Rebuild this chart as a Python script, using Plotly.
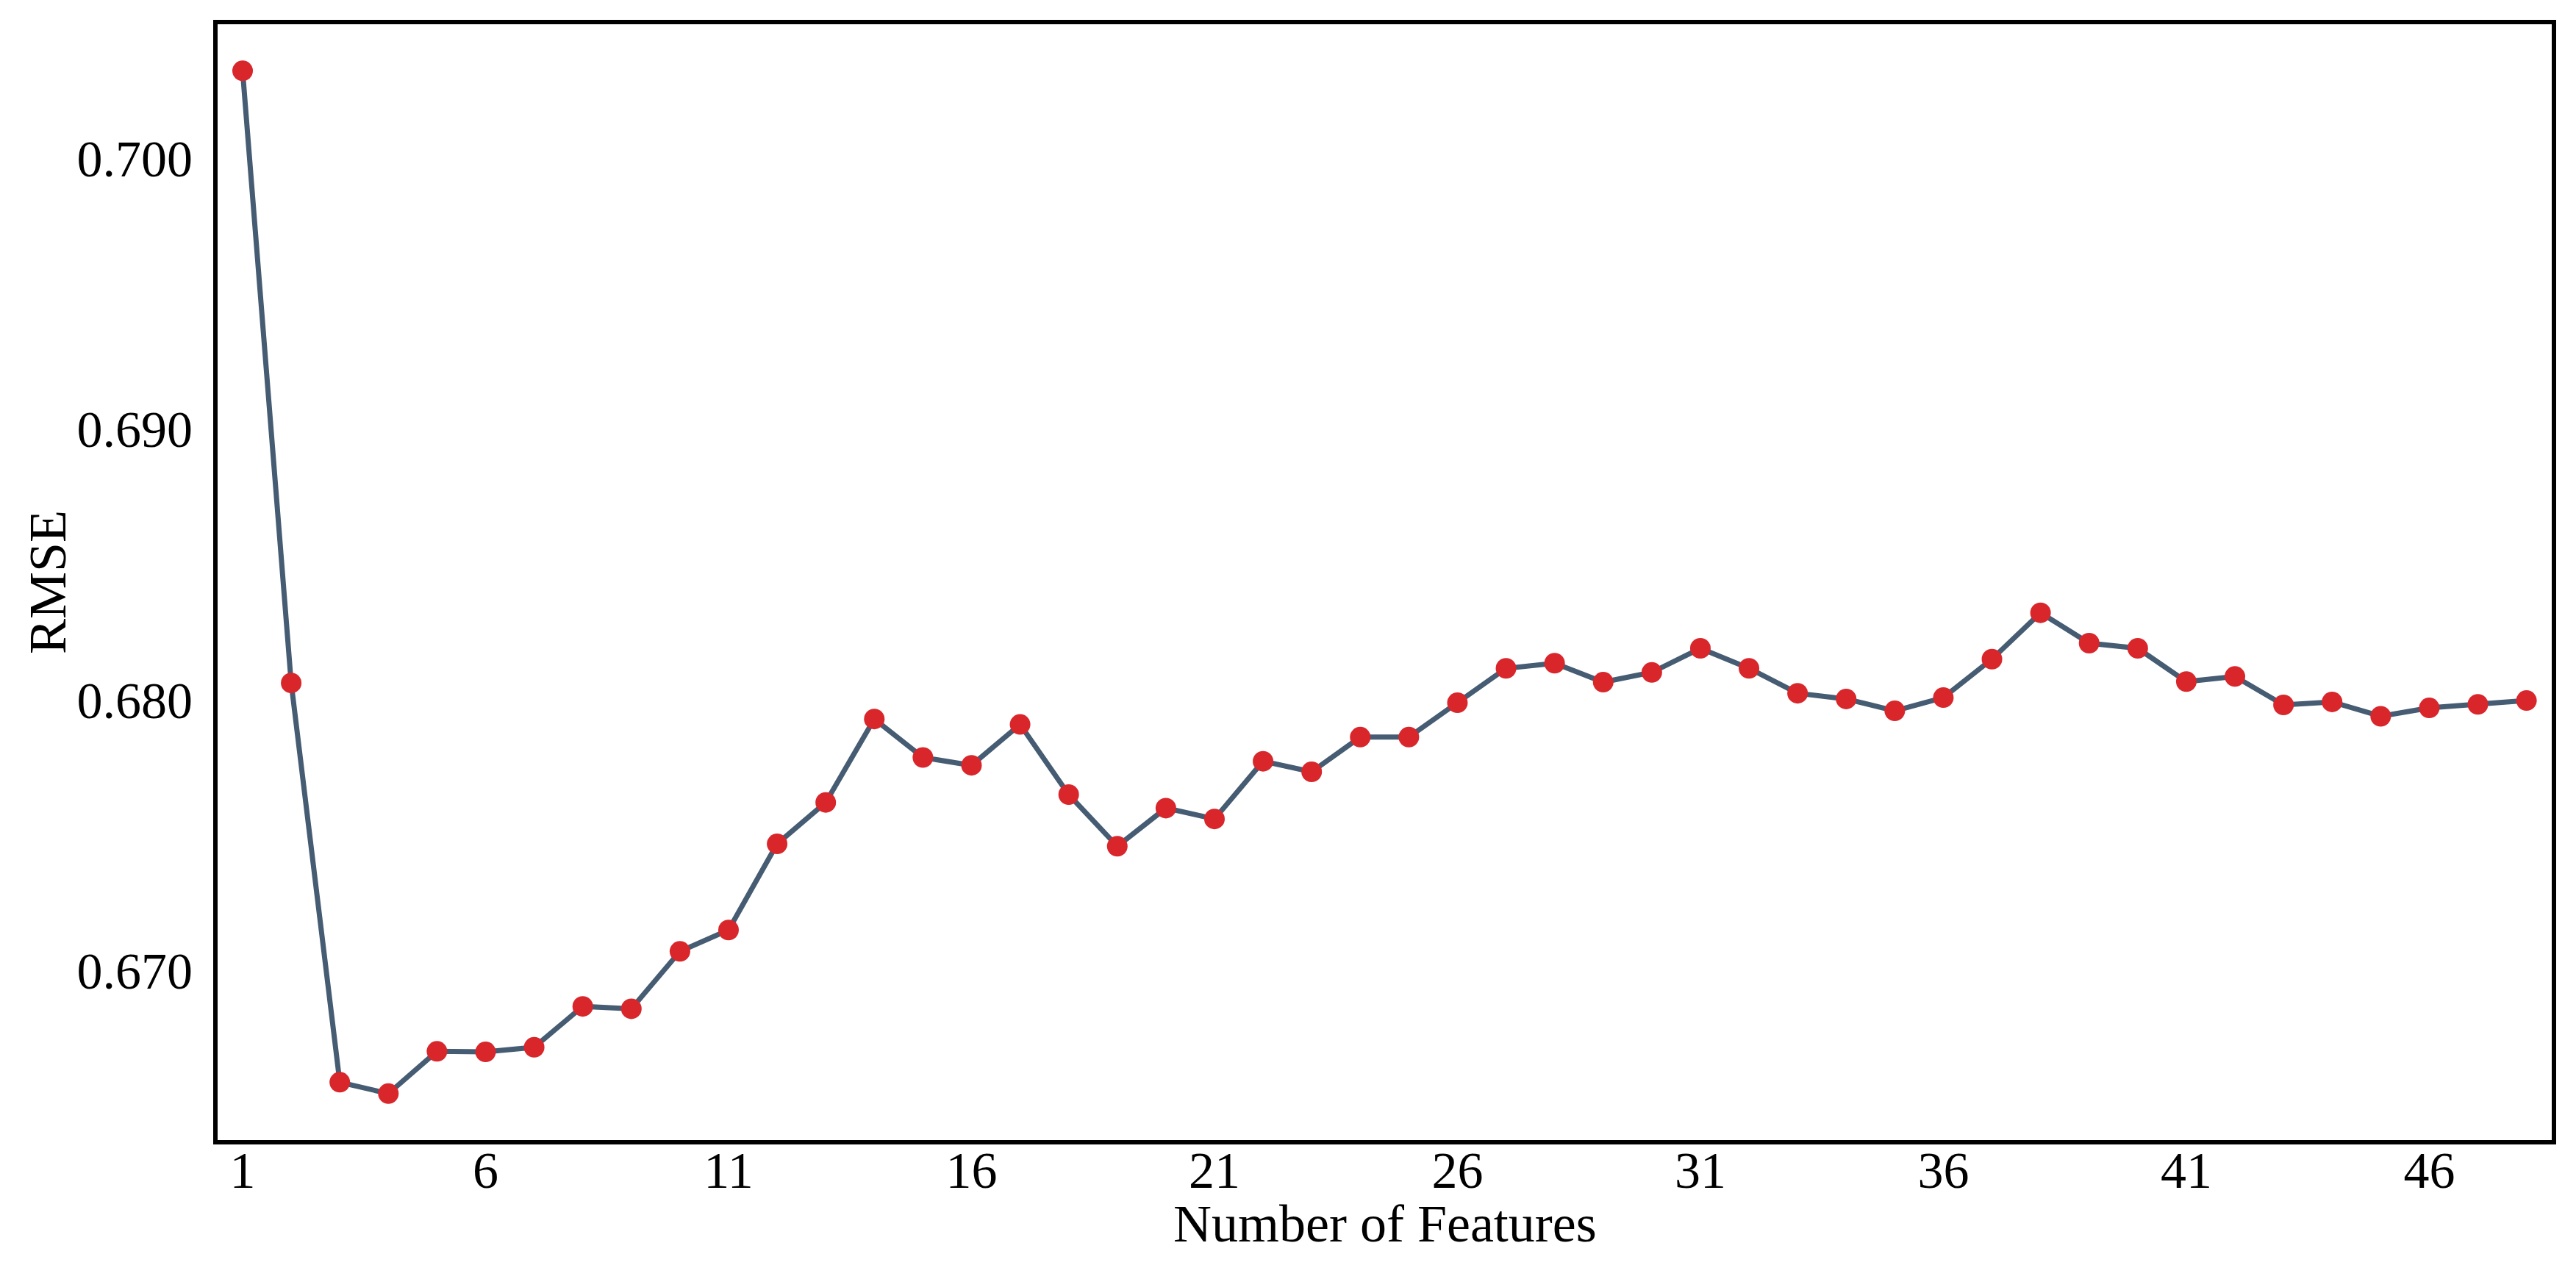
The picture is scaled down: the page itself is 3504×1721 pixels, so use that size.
import plotly.graph_objects as go

n_features = list(range(1, 49))
rmse = [
    0.70322, 0.68062, 0.66588, 0.66546, 0.66702, 0.66700, 0.66717, 0.66868,
    0.66859, 0.67071, 0.67150, 0.67468, 0.67621, 0.67929, 0.67787, 0.67758,
    0.67909, 0.67650, 0.67459, 0.67600, 0.67560, 0.67773, 0.67734, 0.67862,
    0.67862, 0.67989, 0.68116, 0.68135, 0.68065, 0.68101, 0.68190, 0.68116,
    0.68024, 0.68003, 0.67959, 0.68008, 0.68150, 0.68321, 0.68209, 0.68190,
    0.68067, 0.68086, 0.67981, 0.67992, 0.67939, 0.67970, 0.67983, 0.67997,
]
x_ticks = [1, 6, 11, 16, 21, 26, 31, 36, 41, 46]
y_ticks = [0.670, 0.680, 0.690, 0.700]
x_title = "Number of Features"
y_title = "RMSE"

FONT = "Liberation Serif, Times New Roman, serif"

fig = go.Figure()
fig.add_trace(go.Scatter(
    x=n_features, y=rmse, mode="lines+markers",
    line=dict(color="#465C73", width=7),
    marker=dict(color="#D9262B", size=28, line=dict(width=0)),
    showlegend=False,
))

fig.update_layout(
    width=3504, height=1721,
    margin=dict(l=296, r=33, t=33, b=170),
    paper_bgcolor="white", plot_bgcolor="white",
    font=dict(family=FONT, size=70, color="black"),
    annotations=[
        dict(text=x_title, xref="paper", yref="paper", x=0.5, y=0,
             xanchor="center", yanchor="middle", yshift=-114, showarrow=False,
             font=dict(family=FONT, size=72, color="black")),
        dict(text=y_title, xref="paper", yref="paper", x=0, y=0.5,
             xanchor="center", yanchor="middle", xshift=-231, textangle=-90,
             showarrow=False, font=dict(family=FONT, size=72, color="black")),
    ],
)
fig.update_xaxes(
    range=[0.4856, 48.52], tickvals=x_ticks, ticktext=[str(v) for v in x_ticks],
    showgrid=False, zeroline=False, showline=True, linecolor="black",
    linewidth=6, mirror=True, ticks="", ticklabelstandoff=-25,
    tickfont=dict(family=FONT, size=70),
)
fig.update_yaxes(
    range=[0.663745, 0.704939], tickvals=y_ticks,
    ticktext=[f"{v:.3f}" for v in y_ticks],
    showgrid=False, zeroline=False, showline=True, linecolor="black",
    linewidth=6, mirror=True, ticks="", ticklabelstandoff=14,
    tickfont=dict(family=FONT, size=70),
)

fig.write_html("out.html", config={"displayModeBar": False},
               post_script="document.body.style.margin='0';")
